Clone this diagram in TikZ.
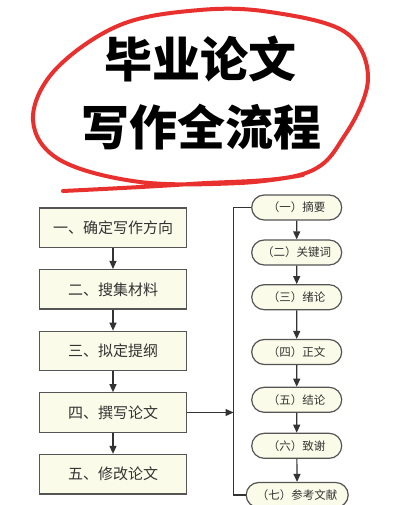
\documentclass[tikz,border=0pt]{standalone}
\usepackage{fontspec}
\setmainfont{Noto Sans CJK SC}
\newfontfamily\titlefont{Noto Sans CJK SC Black}
\usetikzlibrary{arrows.meta,shapes.misc}
\definecolor{boxfill}{HTML}{FBFBE9}
\definecolor{boxline}{HTML}{555555}
\definecolor{txt}{HTML}{333333}
\definecolor{pen}{HTML}{E8302E}
\begin{document}
\begin{tikzpicture}[x=1pt,y=-1pt,
  stepbox/.style={draw=boxline,line width=1.2pt,fill=boxfill,minimum width=147pt,minimum height=39.5pt,inner sep=0pt,text=txt,font=\fontsize{15}{15}\selectfont},
  subbox/.style={draw=boxline,line width=1.2pt,fill=boxfill,rounded rectangle,minimum width=90pt,minimum height=25pt,inner sep=0pt,text=txt,font=\fontsize{11.5}{11.5}\selectfont},
  conn/.style={draw=txt,line width=1.2pt},
  arr/.style={conn,-{Triangle[length=8pt,width=7pt]}}]
\useasboundingbox (0,0) rectangle (401,505);
\fill[white] (0,0) rectangle (401,505);
% red hand-drawn ellipse
\draw[pen,line width=4pt,line cap=round] plot[smooth,tension=0.6] coordinates {
  (63,191) (190,184) (303,174) (345,135) (368,78) (345,32) (270,12) (200,10) (120,25) (55,70) (33,120) (60,160) (140,182) (240,183) (303,175)};
\node[font=\titlefont\fontsize{48}{48}\selectfont] (t1) at (200,59) {毕业论文};
\node[font=\titlefont\fontsize{48}{48}\selectfont] (t2) at (201,127) {写作全流程};
% left column
\node[stepbox] (a1) at (113,227.8) {一、确定写作方向};
\node[stepbox] (a2) at (113,289.3) {二、搜集材料};
\node[stepbox] (a3) at (113,351) {三、拟定提纲};
\node[stepbox] (a4) at (113,412.5) {四、撰写论文};
\node[stepbox] (a5) at (113,474.2) {五、修改论文};
\draw[arr] (a1) -- (a2);
\draw[arr] (a2) -- (a3);
\draw[arr] (a3) -- (a4);
\draw[arr] (a4) -- (a5);
% right column
\node[subbox] (b1) at (296.7,207.5) {（一）摘要};
\node[subbox] (b2) at (296.7,252.5) {（二）关键词};
\node[subbox] (b3) at (296.7,297.2) {（三）绪论};
\node[subbox] (b4) at (296.7,352) {（四）正文};
\node[subbox] (b5) at (296.7,399.8) {（五）结论};
\node[subbox] (b6) at (296.7,445.8) {（六）致谢};
\node[subbox,minimum width=102pt] (b7) at (297.2,495) {（七）参考文献};
\draw[arr] (b1) -- (b2);
\draw[arr] (b2) -- (b3);
\draw[arr] (b3) -- (b4);
\draw[arr] (b4) -- (b5);
\draw[arr] (b5) -- (b6);
\draw[arr] (b6) -- (b7);
\coordinate (bus) at (233.5,412.5);
\draw[conn] (b1.west) -| (bus) |- (b7.west);
\draw[arr] (a4.east) -- (bus);
\end{tikzpicture}
\end{document}
